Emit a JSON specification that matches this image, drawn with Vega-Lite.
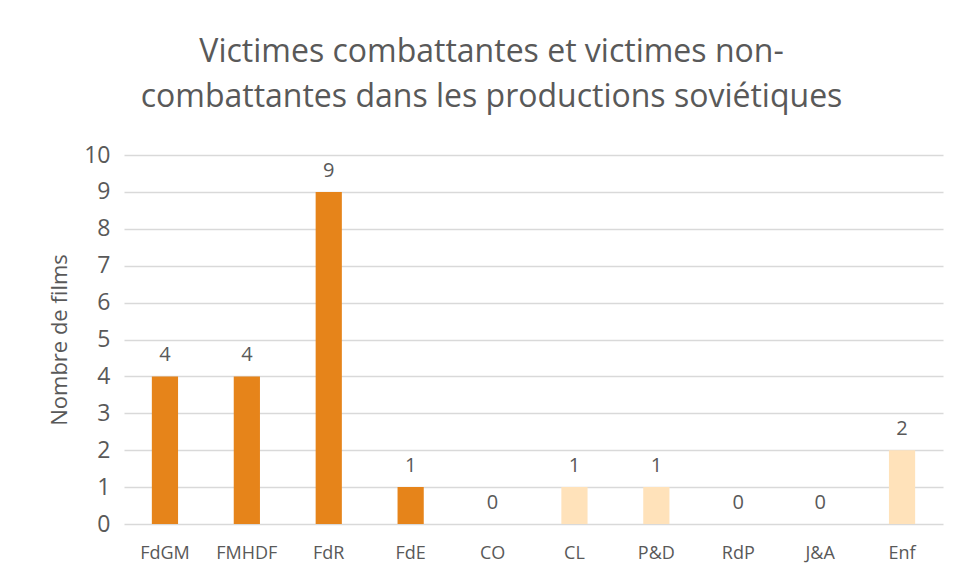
{
  "$schema": "https://vega.github.io/schema/vega-lite/v6.json",
  "autosize": {"type": "none"},
  "width": 819,
  "height": 369,
  "padding": {"left": 124, "top": 155, "right": 17, "bottom": 57},
  "background": "white",
  "title": {
    "text": ["Victimes combattantes et victimes non-", "combattantes dans les productions soviétiques"],
    "font": "Open Sans",
    "fontSize": 32,
    "fontWeight": "normal",
    "color": "#595959",
    "anchor": "middle",
    "dx": -42,
    "offset": 30,
    "lineHeight": 45
  },
  "data": {
    "values": [
      {"film": "FdGM", "n": 4, "groupe": "A"},
      {"film": "FMHDF", "n": 4, "groupe": "A"},
      {"film": "FdR", "n": 9, "groupe": "A"},
      {"film": "FdE", "n": 1, "groupe": "A"},
      {"film": "CO", "n": 0, "groupe": "B"},
      {"film": "CL", "n": 1, "groupe": "B"},
      {"film": "P&D", "n": 1, "groupe": "B"},
      {"film": "RdP", "n": 0, "groupe": "B"},
      {"film": "J&A", "n": 0, "groupe": "B"},
      {"film": "Enf", "n": 2, "groupe": "B"}
    ]
  },
  "config": {
    "view": {"stroke": null},
    "font": "Open Sans"
  },
  "encoding": {
    "x": {
      "field": "film", "type": "nominal", "sort": null,
      "scale": {"paddingInner": 0.68, "paddingOuter": 0.34},
      "axis": {"title": null, "labelAngle": 0, "domain": false, "ticks": false, "labelPadding": 20, "labelFontSize": 18, "labelColor": "#595959", "labelFont": "Open Sans"}
    },
    "y": {
      "field": "n", "type": "quantitative",
      "scale": {"domain": [0, 10]},
      "axis": {"title": "Nombre de films", "titleFontSize": 22, "titleFontWeight": "normal", "titleColor": "#595959", "titlePadding": 12, "values": [0,1,2,3,4,5,6,7,8,9,10], "labelOverlap": false, "domain": false, "ticks": false, "labelPadding": 14, "labelFontSize": 23, "labelColor": "#595959", "gridColor": "#D9D9D9", "gridWidth": 1.3}
    }
  },
  "layer": [
    {
      "mark": {"type": "bar"},
      "encoding": {
        "color": {"field": "groupe", "type": "nominal", "scale": {"domain": ["A", "B"], "range": ["#E6841A", "#FFE2BA"]}, "legend": null}
      }
    },
    {
      "mark": {"type": "text", "baseline": "bottom", "dy": -11, "fontSize": 20, "color": "#595959"},
      "encoding": {"text": {"field": "n", "type": "quantitative"}}
    }
  ]
}
